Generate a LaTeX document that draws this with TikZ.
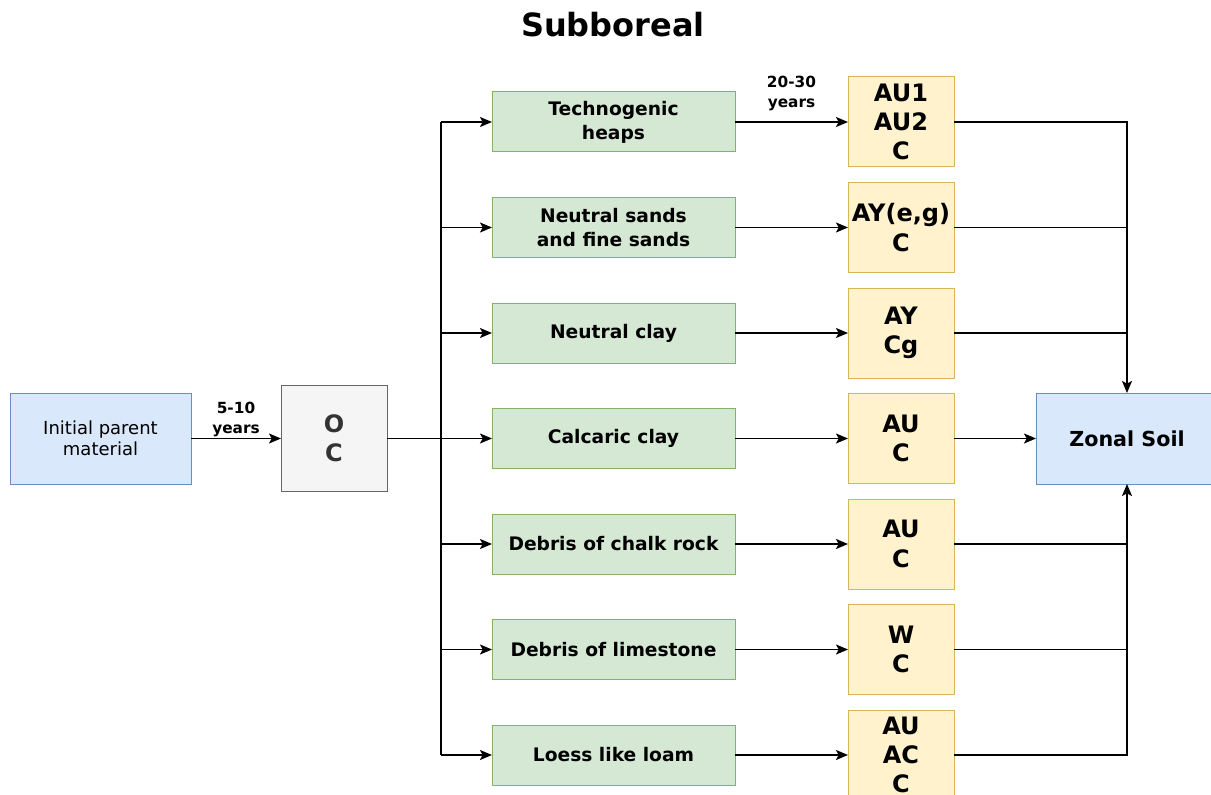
\documentclass[tikz,border=0pt]{standalone}
\usepackage{fontspec}
\setmainfont{DejaVu Sans}
\usetikzlibrary{arrows.meta, positioning}

\definecolor{greenfill}{HTML}{D5E8D4}
\definecolor{greenline}{HTML}{82B366}
\definecolor{yellowfill}{HTML}{FFF2CC}
\definecolor{yellowline}{HTML}{D6B656}
\definecolor{bluefill}{HTML}{DAE8FC}
\definecolor{blueline}{HTML}{6C8EBF}
\definecolor{grayfill}{HTML}{F5F5F5}
\definecolor{grayline}{HTML}{666666}
\definecolor{graytext}{HTML}{333333}

\begin{document}
\begin{tikzpicture}[x=0.75pt, y=-0.75pt, >={Stealth[length=9pt, width=7.5pt, inset=2pt]}, line width=1.2pt]
\tikzset{
    box/.style={line width=0.75pt, outer sep=0pt, align=center},
    soilbox/.style={box, draw=greenline, fill=greenfill, minimum width=182.25pt, minimum height=45pt, inner sep=1pt, font=\fontsize{14}{18}\selectfont\bfseries},
    horizon/.style={box, draw=yellowline, fill=yellowfill, minimum width=79.5pt, minimum height=67.5pt, inner sep=0pt, font=\fontsize{18}{22}\selectfont\bfseries},
    startbox/.style={box, draw=blueline, fill=bluefill, minimum width=135.75pt, minimum height=68.25pt, font=\fontsize{13.5}{16}\selectfont},
    organic/.style={box, draw=grayline, fill=grayfill, minimum width=79.5pt, minimum height=79.5pt, inner sep=0pt, text=graytext, font=\fontsize{18}{22}\selectfont\bfseries},
    zonalbox/.style={box, draw=blueline, fill=bluefill, minimum width=136.5pt, minimum height=68.25pt, font=\fontsize{15.5}{19}\selectfont\bfseries},
    yearlabel/.style={align=center, inner sep=1pt, font=\fontsize{11.5}{15}\selectfont\bfseries},
}
\useasboundingbox (0,0) rectangle (1211,795);

\node (title) at (613,25) {\fontsize{24}{28}\selectfont\bfseries Subboreal};

\node (init) [startbox] at (100.5,438.5) {Initial parent\\material};
\node (oc) [organic, right=67.5pt of init] {O\\C};

% parent rocks
\node (heaps) [soilbox] at (613.5,122) {Technogenic\\heaps};
\node (sands) [soilbox, below=34.125pt of heaps] {Neutral sands\\and fine sands};
\node (clay) [soilbox, below=34.125pt of sands] {Neutral clay};
\node (calcclay) [soilbox, below=34.125pt of clay] {Calcaric clay};
\node (chalk) [soilbox, below=34.125pt of calcclay] {Debris of chalk rock};
\node (limestone) [soilbox, below=34.125pt of chalk] {Debris of limestone};
\node (loess) [soilbox, below=34.125pt of limestone] {Loess like loam};

% horizons
\node (hheaps) [horizon, right=84.75pt of heaps] {AU1\\AU2\\C};
\node (hsands) [horizon, right=84.75pt of sands] {AY(e,g)\\C};
\node (hclay) [horizon, right=84.75pt of clay] {AY\\Cg};
\node (hcalcclay) [horizon, right=84.75pt of calcclay] {AU\\C};
\node (hchalk) [horizon, right=84.75pt of chalk] {AU\\C};
\node (hlimestone) [horizon, right=84.75pt of limestone] {W\\C};
\node (hloess) [horizon, right=84.75pt of loess] {AU\\AC\\C};

\node (zonal) [zonalbox, right=61.5pt of hcalcclay] {Zonal Soil};

\draw[->] (init) -- node[above, yearlabel] {5-10\\years} (oc);
\draw (oc.east) -- ++(54,0) coordinate (split);
\draw (split |- heaps.west) -- (split |- loess.west);
\foreach \rock in {heaps, sands, clay, calcclay, chalk, limestone, loess}
    \draw[->] (split |- \rock.west) -- (\rock.west);

\draw[->] (heaps) -- node[above=7pt, yearlabel] {20-30\\years} (hheaps);
\foreach \rock in {sands, clay, calcclay, chalk, limestone, loess}
    \draw[->] (\rock) -- (h\rock);

\draw[->] (hheaps.east) -| (zonal.north);
\draw (hsands.east) -- (hsands.east -| zonal.north);
\draw (hclay.east) -- (hclay.east -| zonal.north);
\draw[->] (hcalcclay) -- (zonal);
\draw[->] (hloess.east) -| (zonal.south);
\draw (hchalk.east) -- (hchalk.east -| zonal.south);
\draw (hlimestone.east) -- (hlimestone.east -| zonal.south);
\end{tikzpicture}
\end{document}
